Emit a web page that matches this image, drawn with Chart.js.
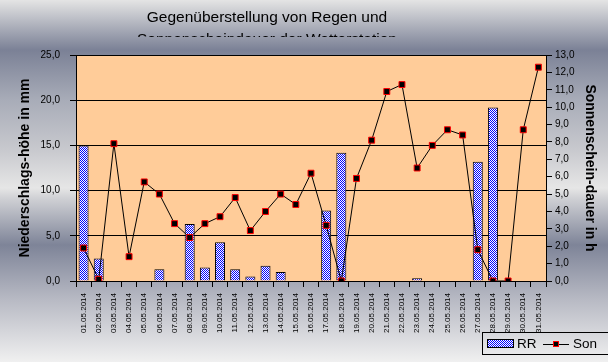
<!DOCTYPE html>
<html>
<head>
<meta charset="utf-8">
<script src="https://cdn.jsdelivr.net/npm/chart.js@4"></script>
<style>
  html, body { margin: 0; padding: 0; }
  #wrap {
    width: 608px; height: 362px; position: relative;
    background: linear-gradient(to bottom,
      #e4e4e4 0px, #7b8196 50px, #a8acb8 100px, #c8c9ce 150px, #e6e6e6 188px,
      #d0d1d5 198px, #7e8498 245px, #b8bac4 300px, #f0f0f0 362px);
  }
</style>
</head>
<body>
<div id="wrap"><canvas id="chart"></canvas></div>
<script>
const days = ['01.05.2014', '02.05.2014', '03.05.2014', '04.05.2014', '05.05.2014', '06.05.2014',
  '07.05.2014', '08.05.2014', '09.05.2014', '10.05.2014', '11.05.2014', '12.05.2014', '13.05.2014',
  '14.05.2014', '15.05.2014', '16.05.2014', '17.05.2014', '18.05.2014', '19.05.2014', '20.05.2014',
  '21.05.2014', '22.05.2014', '23.05.2014', '24.05.2014', '25.05.2014', '26.05.2014', '27.05.2014',
  '28.05.2014', '29.05.2014', '30.05.2014', '31.05.2014'];

// Niederschlag in mm
const rr = [15.0, 2.5, 0, 0, 0, 1.3, 0, 6.3, 1.5, 4.3, 1.3, 0.5, 1.7, 1.0, 0, 0,
  7.8, 14.2, 0, 0, 0, 0, 0.3, 0, 0, 0, 13.2, 19.2, 0, 0, 0];

// Sonnenscheindauer in h
const son = [1.9, 0.1, 7.9, 1.4, 5.7, 5.0, 3.3, 2.5, 3.3, 3.7, 4.8, 2.9, 4.0, 5.0, 4.4, 6.2,
  3.2, 0.0, 5.9, 8.1, 10.9, 11.3, 6.5, 7.8, 8.7, 8.4, 1.8, 0.0, 0.0, 8.7, 12.3];

const titleLines = ['Gegenüberstellung von Regen und', 'Sonnenscheindauer der Wetterstation'];

const narrow = '"Liberation Sans Narrow", "Arial Narrow", "Liberation Sans", Arial, sans-serif';
const arial = '"Liberation Sans", Arial, sans-serif';

// blue / white checker for the bars
const pc = document.createElement('canvas');
pc.width = 2; pc.height = 2;
const pctx = pc.getContext('2d');
pctx.fillStyle = '#ffffff';
pctx.fillRect(0, 0, 2, 2);
pctx.fillStyle = '#0000ff';
pctx.fillRect(0, 0, 1, 1);
pctx.fillRect(1, 1, 1, 1);
const checker = pctx.createPattern(pc, 'repeat');

const comma = v => v.toFixed(1).replace('.', ',');

const plotBg = {
  id: 'plotBg',
  beforeDraw(chart) {
    const {ctx, chartArea: a} = chart;
    ctx.save();
    ctx.fillStyle = '#ffcc99';
    ctx.fillRect(a.left, a.top, a.right - a.left, a.bottom - a.top);
    ctx.restore();
  }
};

const clippedTitle = {
  id: 'clippedTitle',
  afterDraw(chart) {
    const ctx = chart.ctx;
    ctx.save();
    ctx.beginPath();
    ctx.rect(0, 0, chart.width, 37);
    ctx.clip();
    ctx.fillStyle = '#000';
    ctx.font = '15.5px ' + arial;
    ctx.textAlign = 'center';
    ctx.textBaseline = 'alphabetic';
    ctx.fillText(titleLines[0], 267, 22);
    ctx.fillText(titleLines[1], 267, 44);
    ctx.restore();
  }
};

const boxLegend = {
  id: 'boxLegend',
  afterDraw(chart) {
    const ctx = chart.ctx;
    const ds = chart.data.datasets;
    ctx.save();
    ctx.strokeStyle = '#000';
    ctx.lineWidth = 1;
    ctx.strokeRect(482.5, 332.5, 140, 22);
    // bar swatch
    ctx.fillStyle = checker;
    ctx.fillRect(487, 339, 26, 8);
    ctx.strokeRect(487.5, 339.5, 26, 8);
    ctx.fillStyle = '#000';
    ctx.font = '13.5px ' + arial;
    ctx.textBaseline = 'middle';
    ctx.fillText(ds[1].label, 517, 344);
    // line swatch
    ctx.beginPath();
    ctx.moveTo(543, 344.5);
    ctx.lineTo(569, 344.5);
    ctx.stroke();
    ctx.fillStyle = '#000';
    ctx.fillRect(553, 341, 6, 6);
    ctx.strokeStyle = '#ff0000';
    ctx.strokeRect(553.5, 341.5, 5, 5);
    ctx.fillStyle = '#000';
    ctx.fillText(ds[0].label, 573, 344);
    ctx.restore();
  }
};

new Chart(document.getElementById('chart'), {
  data: {
    labels: days,
    datasets: [
      {
        type: 'line',
        label: 'Son',
        data: son,
        yAxisID: 'yR',
        order: 1,
        borderColor: '#000',
        borderWidth: 1,
        tension: 0,
        pointStyle: 'rect',
        pointRadius: 4.2,
        pointBackgroundColor: '#000',
        pointBorderColor: '#ff0000',
        pointBorderWidth: 1
      },
      {
        type: 'bar',
        label: 'RR',
        data: rr,
        yAxisID: 'yL',
        order: 2,
        backgroundColor: checker,
        borderColor: '#000',
        borderWidth: 1,
        barPercentage: 0.66,
        categoryPercentage: 1
      }
    ]
  },
  options: {
    responsive: true,
    maintainAspectRatio: false,
    animation: false,
    layout: { padding: { top: 55, left: 0, right: 0, bottom: 0 } },
    plugins: {
      legend: { display: false },
      title: { display: false },
      tooltip: { enabled: false }
    },
    scales: {
      x: {
        afterFit(s) { s.height = 81; },
        grid: { offset: true, drawOnChartArea: false, color: '#000', tickLength: 6 },
        border: { color: '#000' },
        ticks: {
          color: '#000',
          minRotation: 90,
          maxRotation: 90,
          autoSkip: false,
          padding: 6,
          font: { family: narrow, size: 8 }
        }
      },
      yL: {
        position: 'left',
        min: 0,
        max: 25,
        afterFit(s) { s.width = 76; },
        grid: { color: '#000', tickLength: 6 },
        border: { color: '#000' },
        ticks: {
          stepSize: 5,
          color: '#000',
          padding: 10,
          font: { family: narrow, size: 10 },
          callback: comma
        },
        title: {
          display: true,
          text: 'Niederschlags-höhe in mm',
          color: '#000',
          padding: { top: 17, bottom: 0 },
          font: { family: arial, size: 14, weight: 'bold' }
        }
      },
      yR: {
        position: 'right',
        min: 0,
        max: 13,
        afterFit(s) { s.width = 62; },
        grid: { drawOnChartArea: false, color: '#000', tickLength: 6 },
        border: { color: '#000' },
        ticks: {
          stepSize: 1,
          color: '#000',
          padding: 3,
          font: { family: narrow, size: 10 },
          callback: comma
        },
        title: {
          display: true,
          text: 'Sonnenschein-dauer in h',
          color: '#000',
          padding: { top: 10, bottom: 0 },
          font: { family: arial, size: 14, weight: 'bold' }
        }
      }
    }
  },
  plugins: [plotBg, clippedTitle, boxLegend]
});
</script>
</body>
</html>
